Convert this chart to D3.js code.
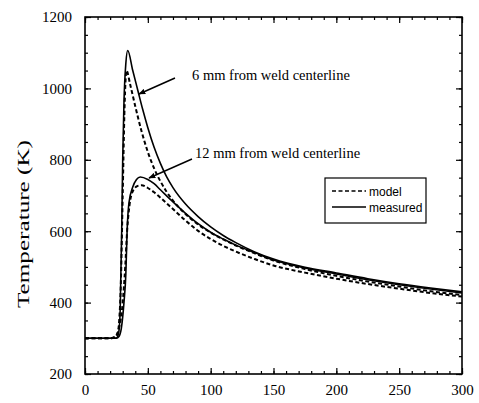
<!DOCTYPE html>
<html>
<head>
<meta charset="utf-8">
<script src="https://d3js.org/d3.v7.min.js"></script>
<style>
body{margin:0;background:#fff;}
.chart text{font-family:"Liberation Serif","Times New Roman",serif;fill:#000;}
.chart .axis path{display:none;}
.chart .axis line{stroke:#000;stroke-width:1.2;}
</style>
</head>
<body>
<svg class="chart" width="479" height="403"></svg>
<script>
// time (s) and temperature (K)
var t6meas=[0,10,20,25,26,27,28,29.2,30,31,32.5,34,38,42,46,50,55,60,65,70,80,90,100,110,120,135,150,175,200,225,250,275,300];
var T6meas=[300,300,300,301,305,320,380,600,800,960,1070,1106,1050,995,940,890,835,790,752,722,676,641,612,588,568,542,522,499,483,467,453,441,430];
var t6mod=[0,10,20,24,26,27,28.5,30,31.5,33,36,40,45,50,55,60,65,70,80,90,100,110,120,135,150,175,200,225,250,275,300];
var T6mod=[300,300,300,303,315,340,450,700,950,1050,1010,950,880,822,776,740,710,686,648,619,596,577,560,538,518,494,475,459,445,432,421];
var t12meas=[0,10,20,25,27,29,31,32.5,33.5,35,38,41,44,50,55,60,70,80,90,100,110,120,135,150,175,200,225,250,275,300];
var T12meas=[300,300,300,300,305,330,400,480,600,680,724,745,752,745,733,716,682,650,621,597,578,561,540,519,497,480,464,450,438,427];
var t12mod=[0,10,20,24,27,30,32,33.5,35.5,38,42,45,50,55,60,70,80,90,100,110,120,135,150,175,200,225,250,275,300];
var T12mod=[300,300,300,305,328,400,500,600,675,712,727,729,721,709,694,662,630,601,578,559,543,522,504,484,467,452,439,427,417];

var legendLabels=["model","measured"];
var xTicks=[0,50,100,150,200,250,300];
var yTicks=[200,400,600,800,1000,1200];

var svg=d3.select(".chart");
var x=d3.scaleLinear().domain([0,300]).range([85,462]);
var y=d3.scaleLinear().domain([200,1200]).range([374,17]);

function minor(step,lo,hi){
	var a=[];
	for(var v=lo;v<=hi+1e-9;v+=step){a.push(v);}
	return a;
}

// ticks on all four sides, pointing inward
svg.append("g").attr("class","axis").attr("transform","translate(0,374)")
	.call(d3.axisBottom(x).tickValues(minor(10,0,300)).tickSize(-3).tickFormat(""));
svg.append("g").attr("class","axis").attr("transform","translate(0,374)")
	.call(d3.axisBottom(x).tickValues(xTicks).tickSize(-6).tickPadding(10).tickFormat(d3.format("d")))
	.selectAll("text").attr("font-size","15px").attr("font-family","Liberation Serif");
svg.append("g").attr("class","axis").attr("transform","translate(0,17)")
	.call(d3.axisTop(x).tickValues(minor(10,0,300)).tickSize(-3).tickFormat(""));
svg.append("g").attr("class","axis").attr("transform","translate(0,17)")
	.call(d3.axisTop(x).tickValues(xTicks).tickSize(-6).tickFormat(""));

svg.append("g").attr("class","axis").attr("transform","translate(85,0)")
	.call(d3.axisLeft(y).tickValues(minor(50,200,1200)).tickSize(-3).tickFormat(""));
svg.append("g").attr("class","axis").attr("transform","translate(85,0)")
	.call(d3.axisLeft(y).tickValues(yTicks).tickSize(-6).tickPadding(13).tickFormat(d3.format("d")))
	.selectAll("text").attr("font-size","15px").attr("font-family","Liberation Serif");
svg.append("g").attr("class","axis").attr("transform","translate(462,0)")
	.call(d3.axisRight(y).tickValues(minor(50,200,1200)).tickSize(-3).tickFormat(""));
svg.append("g").attr("class","axis").attr("transform","translate(462,0)")
	.call(d3.axisRight(y).tickValues(yTicks).tickSize(-6).tickFormat(""));

svg.append("rect")
	.attr("x",x(0)).attr("y",y(1200))
	.attr("width",x(300)-x(0)).attr("height",y(200)-y(1200))
	.attr("fill","none").attr("stroke","#000").attr("stroke-width",1.6);

svg.append("text")
	.attr("transform","translate(29,224) rotate(-90)")
	.attr("text-anchor","middle")
	.attr("font-size","16px")
	.attr("textLength",168).attr("lengthAdjust","spacingAndGlyphs")
	.text("Temperature (K)");

var line=d3.line().x(function(d){return x(d[0]);}).y(function(d){return y(d[1]);}).curve(d3.curveMonotoneX);

var series=[
	{t:t6mod,T:T6mod,dash:"4,2.5",w:2},
	{t:t12mod,T:T12mod,dash:"4,2.5",w:2},
	{t:t6meas,T:T6meas,dash:null,w:1.6},
	{t:t12meas,T:T12meas,dash:null,w:1.6}
];
svg.selectAll("path.curve").data(series).enter().append("path")
	.attr("class","curve")
	.attr("d",function(d){return line(d.t.map(function(v,i){return [v,d.T[i]];}));})
	.attr("fill","none").attr("stroke","#000")
	.attr("stroke-width",function(d){return d.w;})
	.attr("stroke-dasharray",function(d){return d.dash;});

// annotations with arrows
svg.append("defs").append("marker")
	.attr("id","arrowhead").attr("viewBox","0 -5 10 10")
	.attr("refX",9).attr("refY",0)
	.attr("markerWidth",7).attr("markerHeight",7)
	.attr("markerUnits","userSpaceOnUse").attr("orient","auto")
	.append("path").attr("d","M0,-4L10,0L0,4Z").attr("fill","#000");

var notes=[
	{text:"6 mm from weld centerline",tx:192,ty:80,x1:175,y1:78,x2:139,y2:94},
	{text:"12 mm from weld centerline",tx:195,ty:158,x1:192,y1:159,x2:149,y2:178}
];
svg.selectAll("line.note").data(notes).enter().append("line")
	.attr("class","note")
	.attr("x1",function(d){return d.x1;}).attr("y1",function(d){return d.y1;})
	.attr("x2",function(d){return d.x2;}).attr("y2",function(d){return d.y2;})
	.attr("stroke","#000").attr("stroke-width",1.4)
	.attr("marker-end","url(#arrowhead)");
svg.selectAll("text.note").data(notes).enter().append("text")
	.attr("class","note")
	.attr("x",function(d){return d.tx;}).attr("y",function(d){return d.ty;})
	.attr("font-size","14.5px")
	.text(function(d){return d.text;});

// legend
var lg=svg.append("g");
lg.append("rect").attr("x",325).attr("y",178).attr("width",101).attr("height",45)
	.attr("fill","#fff").attr("stroke","#000").attr("stroke-width",1.2);
var rows=lg.selectAll("g.row").data(legendLabels).enter().append("g")
	.attr("class","row")
	.attr("transform",function(d,i){return "translate(0,"+(191+i*16)+")";});
rows.append("line").attr("x1",332).attr("x2",366).attr("y1",0).attr("y2",0)
	.attr("stroke","#000").attr("stroke-width",1.4)
	.attr("stroke-dasharray",function(d,i){return i==0?"4,2.5":null;});
rows.append("text").attr("x",369).attr("y",4.5)
	.attr("font-size","12px")
	.style("font-family","'Liberation Sans',Arial,sans-serif")
	.text(function(d){return d;});
</script>
</body>
</html>
